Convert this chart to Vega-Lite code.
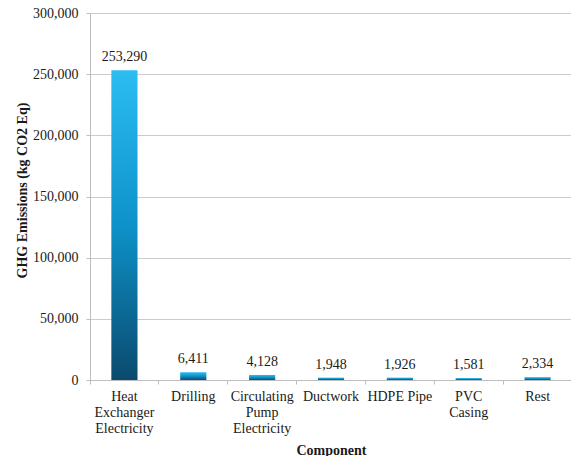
{
  "$schema": "https://vega.github.io/schema/vega-lite/v6.json",
  "width": 482,
  "height": 367,
  "autosize": {"type": "none"},
  "padding": {"left": 90, "top": 13, "right": 0, "bottom": 76},
  "background": "white",
  "config": {
    "font": "Liberation Serif",
    "view": {"stroke": null}
  },
  "data": {
    "values": [
      {"component": "Heat|Exchanger|Electricity", "value": 253290, "order": 1},
      {"component": "Drilling", "value": 6411, "order": 2},
      {"component": "Circulating|Pump|Electricity", "value": 4128, "order": 3},
      {"component": "Ductwork", "value": 1948, "order": 4},
      {"component": "HDPE Pipe", "value": 1926, "order": 5},
      {"component": "PVC|Casing", "value": 1581, "order": 6},
      {"component": "Rest", "value": 2334, "order": 7}
    ]
  },
  "encoding": {
    "x": {
      "field": "component",
      "type": "nominal",
      "sort": {"field": "order"},
      "scale": {"paddingInner": 0, "paddingOuter": 0},
      "axis": {
        "title": "Component",
        "titleFont": "Liberation Serif",
        "titleFontSize": 14,
        "titleFontWeight": "bold",
        "titleColor": "#1a1a1a",
        "titlePadding": 8,
        "labelAngle": 0,
        "labelFont": "Liberation Serif",
        "labelFontSize": 14,
        "labelColor": "#1a1a1a",
        "labelLineHeight": 16,
        "labelPadding": 5,
        "labelExpr": "split(datum.label, '|')",
        "bandPosition": 0,
        "tickColor": "#bdbdbd",
        "tickSize": 4,
        "domainColor": "#bdbdbd",
        "grid": false
      }
    },
    "y": {
      "field": "value",
      "type": "quantitative",
      "scale": {"domain": [0, 300000], "nice": false},
      "axis": {
        "title": "GHG Emissions (kg CO2 Eq)",
        "titleFont": "Liberation Serif",
        "titleFontSize": 14,
        "titleFontWeight": "bold",
        "titleColor": "#1a1a1a",
        "titleX": -68,
        "titleY": 177,
        "titleBaseline": "middle",
        "titleAlign": "center",
        "titleAngle": -90,
        "values": [0, 50000, 100000, 150000, 200000, 250000, 300000],
        "labelExpr": "format(datum.value, ',')",
        "labelFont": "Liberation Serif",
        "labelFontSize": 14,
        "labelColor": "#1a1a1a",
        "labelPadding": 8,
        "tickColor": "#bdbdbd",
        "tickSize": 4,
        "domainColor": "#bdbdbd",
        "gridColor": "#cccccc"
      }
    }
  },
  "layer": [
    {
      "mark": {
        "type": "bar",
        "width": {"band": 0.38},
        "color": {
          "gradient": "linear",
          "x1": 0, "y1": 0, "x2": 0, "y2": 1,
          "stops": [
            {"offset": 0, "color": "#2cbdf3"},
            {"offset": 0.5, "color": "#0d92c9"},
            {"offset": 1, "color": "#0b4a6e"}
          ]
        }
      }
    },
    {
      "mark": {"type": "text", "dy": -9, "fontSize": 14, "font": "Liberation Serif", "color": "#1a1a1a", "baseline": "alphabetic"},
      "encoding": {"text": {"field": "value", "type": "quantitative", "format": ","}}
    }
  ]
}
